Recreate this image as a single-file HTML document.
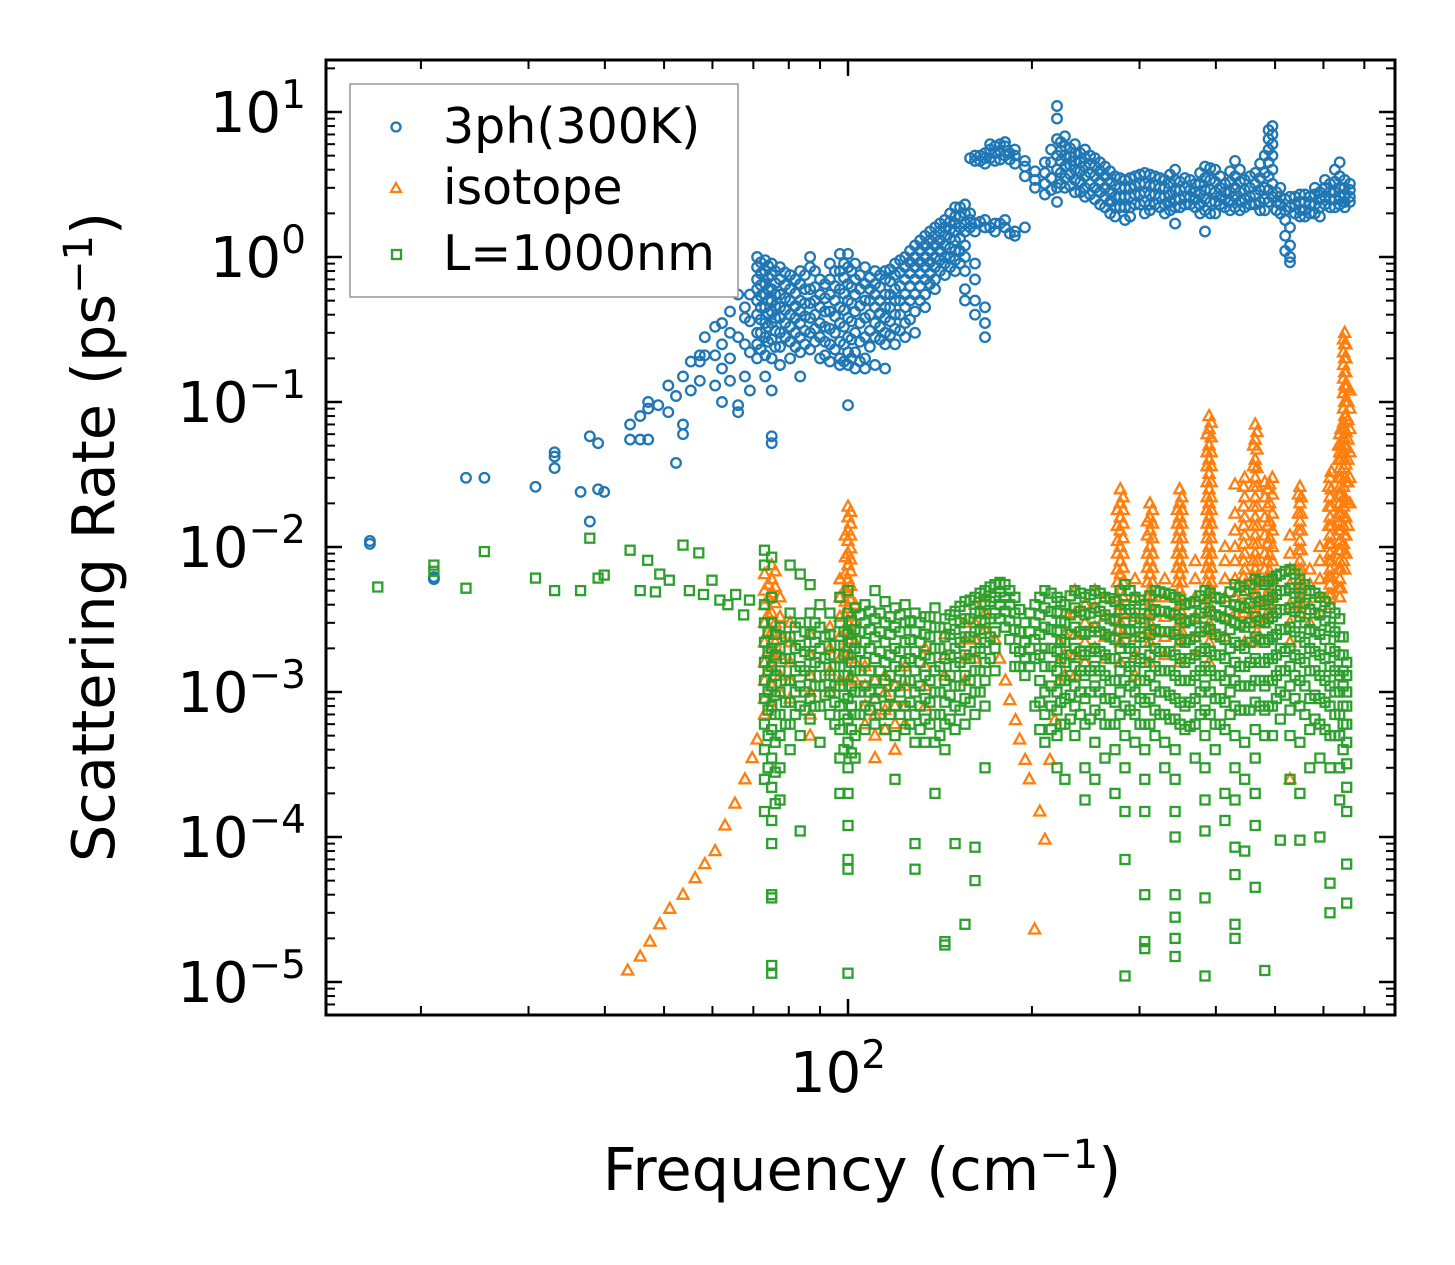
<!DOCTYPE html>
<html><head><meta charset="utf-8"><style>
html,body{margin:0;padding:0;background:#fff;}
svg{display:block;font-family:"DejaVu Sans","Liberation Sans",sans-serif;}
</style></head><body>
<svg id="chart" width="1455" height="1265" viewBox="0 0 1455 1265" xmlns="http://www.w3.org/2000/svg">
<rect width="1455" height="1265" fill="#fff"/>
<g id="marks"></g>
<g id="axes"></g>
<g id="legend">
<rect x="350" y="84" width="388" height="213" fill="#fff" stroke="#999" stroke-width="1.5"/>
<circle cx="396" cy="127" r="4.5" fill="none" stroke="#1f77b4" stroke-width="2.3"/>
<text x="443" y="143" font-size="49">3ph(300K)</text>
<path d="M396,183 L401,192 L391,192 Z" fill="none" stroke="#ff7f0e" stroke-width="2.3"/>
<text x="443" y="204" font-size="49">isotope</text>
<rect x="392" y="250" width="9" height="9" fill="none" stroke="#2ca02c" stroke-width="2.3"/>
<text x="443" y="270" font-size="49">L=1000nm</text>
</g>
<text x="862" y="1190" font-size="59" text-anchor="middle">Frequency (cm<tspan dy="-22" font-size="40">−1</tspan><tspan dy="22">)</tspan></text>
<text transform="translate(114,537) rotate(-90)" font-size="59" text-anchor="middle">Scattering Rate (ps<tspan dy="-22" font-size="40">−1</tspan><tspan dy="22">)</tspan></text>
</svg>
<script>
// ---- data ----
const blueFreqs=[16.5,21,23.7,25.4,30.8,33.1,36.5,37.8,39,39.9,44,45.7,47.1,48.9,50.8,52.3,53.7,55.3,57.2,58.3,60.6,62.2,64.1,66.1,67.8,69.1,71,73.2,75,77.4,80.4,83.5,86.7,90,93.4,97,100,102.7,106.6,110.7,115,119.4,124,128.7,133.7,138.8,144.1,149.7,155.4,161.4,167.6,174,180.7,187.6,194.8,202.3,210,219.8,226.5,235.2,244.3,253.6,263.4,273.5,284,294.9,306,318,330,343,356,370,384,399,414,430,446,464,481,495,510,529,549,570,592,615,638,663];
const blueRates=[[0.011,0.0105],[0.0062,0.006],[0.030],[0.030],[0.026],[0.045,0.042,0.035],[0.024],[0.058,0.015],[0.052,0.025],[0.024],[0.070,0.055],[0.08,0.055],[0.10,0.09,0.055],[0.095],[0.13,0.085],[0.11,0.038],[0.15,0.07,0.06],[0.19,0.12],[0.21,0.19,0.14],[0.28,0.21],[0.33,0.21,0.13],[0.35,0.25,0.17,0.10],[0.42,0.30,0.20,0.14],[0.55,0.28,0.095,0.085],[0.45,0.38,0.25,0.15],[0.55,0.36,0.22,0.12],
[1.0,0.85,0.7,0.6,0.5,0.4,0.3,0.25,0.2],[0.95,0.8,0.65,0.55,0.45,0.35,0.28,0.21,0.15],[0.9,0.75,0.6,0.5,0.42,0.35,0.27,0.2,0.12,0.058,0.052],[0.85,0.7,0.55,0.45,0.38,0.3,0.24,0.18],[0.75,0.6,0.5,0.4,0.33,0.26,0.2],[0.8,0.65,0.5,0.42,0.35,0.28,0.22,0.15],[1.0,0.85,0.6,0.48,0.38,0.3,0.23],[0.7,0.55,0.45,0.35,0.28,0.2],[0.9,0.7,0.55,0.42,0.32,0.25,0.19],[1.05,0.8,0.6,0.45,0.35,0.26,0.2,0.18],[1.05,0.85,0.65,0.5,0.38,0.28,0.22,0.18,0.095],[0.9,0.7,0.55,0.42,0.3,0.22,0.17],[0.85,0.65,0.5,0.38,0.28,0.2,0.17],[0.8,0.65,0.55,0.45,0.35,0.28,0.18],[0.8,0.7,0.55,0.45,0.38,0.3,0.25,0.17],[0.9,0.75,0.6,0.5,0.4,0.32,0.25],[1.0,0.85,0.7,0.55,0.45,0.35,0.28],[1.2,1.0,0.85,0.7,0.55,0.42,0.3],[1.4,1.2,1.0,0.85,0.7,0.55,0.45],[1.6,1.4,1.2,1.0,0.85,0.7,0.6],[1.8,1.6,1.4,1.2,1.0,0.9,0.75],[2.2,1.9,1.7,1.5,1.3,1.1,0.95,0.8],[2.3,2.0,1.7,1.5,1.2,1.0,0.8,0.6,0.5],[5.0,4.6,1.7,1.5,0.9,0.7,0.5,0.4],[5.2,4.8,4.4,1.8,1.6,0.45,0.35,0.28],[5.8,5.2,4.6,1.7,1.5],[6.2,5.8,5.0,1.8,1.6],[5.5,5.0,4.4,1.5,1.4],[4.6,4.2,3.6,1.6],[3.9,3.4,3.0],[4.5,3.8,3.2,2.7],[11,9.0,6.5,5.0,4.0,3.0,2.4],[6.8,5.8,5.0,4.2,3.5,3.0],[6.0,5.2,4.6,4.0,3.4,2.8],[5.5,4.8,4.2,3.6,3.0,2.6],[4.8,4.2,3.6,3.0,2.5],[4.2,3.6,3.0,2.6,2.2],[3.6,3.1,2.6,2.2,1.9],[3.4,3.0,2.6,2.2,1.8],[3.6,3.1,2.7,2.3],[3.8,3.2,2.8,2.4,2.0],[3.6,3.1,2.7,2.3],[3.4,3.0,2.6,2.3,2.0],[4.0,3.4,2.9,2.5,2.2,1.7],[3.5,3.0,2.6,2.3],[3.2,2.8,2.5,2.2],[4.2,3.5,2.9,2.5,2.1,1.5],[4.0,3.3,2.8,2.4,2.0],[3.2,2.8,2.5,2.2],[4.6,3.6,3.0,2.6,2.2],[3.4,2.9,2.5,2.2],[3.8,3.2,2.7,2.3],[5.0,3.8,3.0,2.5,2.1],[8.0,7.0,6.0,5.0,4.0,3.2,2.6],[3.0,2.6,2.3,2.0],[2.6,2.2,1.6,1.2,1.0,0.92],[2.7,2.4,2.1,1.9],[2.6,2.3,2.0],[2.8,2.5,2.2,1.9],[3.2,2.8,2.5,2.2],[4.5,3.6,3.0,2.6,2.3],[3.2,2.9,2.6,2.4]];
const blueFreqs2=[72,74,76,78.9,82,85,88.3,91.7,95.2,98.5,101.3,104.6,108.6,112.8,117.2,121.7,126.3,131.2,136.2,141.4,146.9,152.5,158.4,164.5,170.8,177.3,184,215,223,231,240,249,258.5,268.5,278.7,289.5,300.5,312,324,336.5,349.5,363,377,391.5,406.5,422,438,455,472.5,488,502.5,519.5,539,559.5,581,603.5,626.5,650];
const blueRates2=[[0.92,0.77,0.64,0.54,0.45,0.37,0.3,0.23],[0.87,0.72,0.6,0.5,0.41,0.33,0.26],[0.8,0.66,0.55,0.46,0.38,0.31,0.24],[0.78,0.64,0.52,0.43,0.35,0.28],[0.7,0.56,0.46,0.38,0.3,0.24],[0.75,0.6,0.48,0.39,0.31,0.25],[0.8,0.62,0.5,0.4,0.32,0.26],[0.65,0.52,0.42,0.33,0.26,0.21],[0.8,0.63,0.5,0.39,0.3,0.23],[0.9,0.72,0.56,0.43,0.33,0.25,0.19],[0.8,0.62,0.48,0.36,0.27,0.2],[0.75,0.6,0.46,0.35,0.26,0.19],[0.72,0.6,0.5,0.4,0.31,0.24],[0.75,0.62,0.5,0.41,0.33,0.27],[0.82,0.68,0.55,0.45,0.36,0.29],[0.95,0.78,0.63,0.5,0.4,0.31],[1.1,0.92,0.77,0.63,0.5,0.37],[1.3,1.1,0.92,0.77,0.63,0.5],[1.5,1.3,1.1,0.92,0.77,0.65],[1.7,1.5,1.3,1.1,0.95,0.8],[2.0,1.75,1.55,1.35,1.15,1.0,0.85],[2.2,1.9,1.6,1.35,1.1,0.9],[4.8,2.0,1.8,1.6],[5.0,4.6,1.75],[6.0,5.5,4.8,1.6],[6.0,5.4,4.7,1.7],[5.2,4.7,1.45],[5.5,4.5,3.5,2.9],[6.2,5.4,4.6,3.8,3.2],[5.6,4.9,4.3,3.7,3.1],[5.2,4.5,3.9,3.3,2.8],[5.0,4.4,3.8,3.2,2.7],[4.5,3.9,3.3,2.8,2.3],[3.9,3.3,2.8,2.4,2.0],[3.5,3.0,2.6,2.2],[3.5,3.0,2.6,2.2,1.9],[3.7,3.2,2.7,2.3],[3.7,3.1,2.7,2.3,2.1],[3.5,3.0,2.6,2.2],[3.7,3.2,2.7,2.4,2.1],[3.3,2.9,2.5,2.2],[3.4,2.9,2.6,2.3],[3.8,3.2,2.7,2.3,2.0],[4.1,3.4,2.9,2.4,2.0],[3.6,3.0,2.6,2.3],[3.9,3.3,2.8,2.4,2.1],[4.0,3.3,2.8,2.4,2.1],[3.6,3.0,2.6,2.3],[4.4,3.5,2.9,2.4,2.1],[7.5,6.5,5.5,4.5,3.6,2.9,2.4],[2.8,2.4,2.1],[2.5,2.1,1.8,1.4,1.1],[2.6,2.3,2.0],[2.7,2.4,2.1,1.9],[3.0,2.7,2.3,2.0],[3.4,3.0,2.6,2.3],[4.0,3.3,2.8,2.5,2.2],[3.4,3.0,2.7,2.4,2.2]];

const isoFreqs=[43.6,45.7,47.4,49.2,51.1,53.7,56.2,58.3,60.6,62.9,65.3,67.8,69.7,71,73,75,77.4,80.4,86.7,93.4,97,100,102.7,106.6,110.7,115,119.4,124,133.7,144.1,155.4,161.4,167.6,174,177,181,184,188,191,195,198,202,206,210,214,218,222,226.5,235.2,244.3,253.6,263.4,279,294.9,312,330,349,370,390,414,430,446,464,481,495,529,549,570,592,615,638,650,663];
const isoRates=[[1.2e-5],[1.5e-5],[1.9e-5],[2.5e-5],[3.2e-5],[4e-5],[5.2e-5],[6.5e-5],[8e-5],[1.2e-4],[1.7e-4],[2.5e-4],[3.5e-4],[4.7e-4],[0.0065,0.005,0.004,0.003,0.0022,0.0016,0.0012,9e-4,7e-4],[0.0075,0.006,0.0048,0.0035,0.0026,0.002,0.0015,0.0011,8e-4],[0.0045,0.0033,0.0025,0.0018,0.0013,0.001],[0.003,0.0022,0.0016,0.0012,9e-4],[0.0025,0.0018,0.0013,0.001,7e-4,5e-4],[0.0028,0.002,0.0014,0.001],[0.006,0.0045,0.0033,0.0024,0.0017,0.0012],[0.019,0.016,0.013,0.011,0.009,0.0075,0.006,0.0048,0.0038,0.003,0.0023,0.0017,0.0012],[0.004,0.003,0.0022,0.0016,0.0012],[0.0015,0.0011,8e-4,6e-4],[0.0012,9e-4,7e-4,5e-4,3.5e-4],[0.0013,0.001,7.5e-4,5.5e-4],[0.0011,8e-4,6e-4,4e-4],[0.0015,0.0011,8e-4,6e-4],[0.002,0.0015,0.0011,8e-4],[0.0025,0.0018,0.0013],[0.003,0.0023,0.0017,0.0012],[0.004,0.003,0.0023,0.0017],[0.0045,0.0035,0.0027],[2.3e-3],[1.7e-3],[1.2e-3],[8.8e-4],[6.4e-4],[4.7e-4],[3.4e-4],[2.5e-4],[2.3e-5],[1.5e-4],[9.6e-5],[3.4e-4],[6.4e-4],[0.0012,0.0016,0.0022],[0.0035,0.0025,0.0018,0.0013],[0.005,0.0035,0.0025,0.0018,0.0013],[0.004,0.003,0.0022,0.0016],[0.005,0.0038,0.0028,0.002],[0.0045,0.0033,0.0024,0.0017],[0.025,0.02,0.016,0.013,0.01,0.008,0.0065,0.005,0.004,0.003,0.0022,0.0016],[0.006,0.0045,0.0033,0.0024,0.0018,0.0013],[0.02,0.016,0.013,0.01,0.008,0.0065,0.005,0.004,0.003,0.0022,0.0016],[0.006,0.0045,0.0033,0.0024,0.0018],[0.025,0.02,0.016,0.013,0.01,0.008,0.0065,0.005,0.004,0.003,0.0022,0.0016],[0.008,0.006,0.0045,0.0033,0.0024,0.0018],[0.08,0.065,0.05,0.04,0.032,0.025,0.02,0.016,0.013,0.01,0.008,0.0065,0.005,0.004,0.003,0.0022,0.0016],[0.01,0.008,0.006,0.0045,0.0033,0.0024],[0.027,0.017,0.013,0.01,0.008,0.006,0.0045,0.0035],[0.03,0.022,0.016,0.012,0.009,0.007,0.0055,0.004,0.003,0.0022],[0.07,0.055,0.04,0.03,0.022,0.016,0.012,0.009,0.007,0.0055,0.004,0.003,0.0022],[0.028,0.022,0.016,0.012,0.009,0.007,0.0055,0.004,0.003],[0.03,0.023,0.017,0.013,0.01,0.008,0.006,0.0045,0.0035],[0.012,0.009,0.007,0.0055,0.004,0.003,0.0022,2.5e-4],[0.026,0.02,0.015,0.011,0.008,0.006,0.0045,0.0035],[0.007,0.0055,0.004,0.003],[0.01,0.008,0.006,0.0045,0.0035],[0.03,0.022,0.016,0.012,0.009,0.007,0.0055,0.004],[0.06,0.045,0.035,0.026,0.02,0.015,0.011,0.008,0.006,0.0045],[0.3,0.25,0.2,0.16,0.13,0.1,0.08,0.065,0.05,0.04,0.03,0.022,0.016,0.012,0.009,0.007],[0.12,0.09,0.065,0.045,0.03,0.02]];
const isoFreqs2=[74,76,99,101,276,282,309,315,346,352,387,393,444,461,467,486,490,546,552,612,618,635,641,647,653,658];
const isoRates2=[[0.0055,0.0044,0.0034,0.0026,0.0019,0.0014],[0.0068,0.0053,0.0041,0.003,0.0022,0.0017],[0.012,0.0085,0.0065,0.0052,0.0042,0.0033,0.0026,0.002],[0.0175,0.0145,0.012,0.0098,0.0082,0.0068,0.0054,0.0043,0.0034,0.0026],[0.018,0.014,0.011,0.009,0.007,0.0057,0.0045,0.0035,0.0027],[0.022,0.018,0.0145,0.0115,0.009,0.0072,0.0057,0.0045,0.0035,0.0026],[0.015,0.012,0.009,0.0072,0.0057,0.0045,0.0035,0.0027],[0.018,0.0145,0.0115,0.009,0.0072,0.0057,0.0045,0.0035,0.0026],[0.018,0.0145,0.0115,0.009,0.0072,0.0057,0.0045,0.0035,0.0027],[0.022,0.018,0.0145,0.0115,0.009,0.0072,0.0057,0.0045,0.0035,0.0026],[0.06,0.045,0.036,0.028,0.022,0.018,0.0145,0.0115,0.009,0.0072,0.0057,0.0045,0.0035,0.0027],[0.072,0.057,0.045,0.036,0.028,0.022,0.018,0.0145,0.0115,0.009,0.0072,0.0057,0.0045,0.0035,0.0026],[0.026,0.019,0.014,0.0105,0.008,0.0062,0.0047,0.0035],[0.05,0.036,0.026,0.019,0.014,0.0105,0.008,0.0062,0.0047,0.0035],[0.062,0.047,0.035,0.026,0.019,0.014,0.0105,0.008,0.0062,0.0047,0.0035,0.0026],[0.025,0.019,0.014,0.0105,0.008,0.0062,0.0047,0.0035],[0.027,0.02,0.015,0.0115,0.0088,0.0068,0.0052,0.004],[0.023,0.017,0.013,0.0095,0.007,0.0052,0.004],[0.022,0.017,0.013,0.0095,0.007,0.0052,0.004],[0.026,0.019,0.014,0.0105,0.008,0.0062,0.0047],[0.033,0.025,0.019,0.014,0.0105,0.008,0.0062,0.0047],[0.05,0.04,0.03,0.023,0.017,0.013,0.0095,0.007,0.0052],[0.065,0.05,0.04,0.03,0.023,0.017,0.013,0.0095,0.007,0.0052],[0.27,0.22,0.18,0.145,0.115,0.09,0.072,0.057,0.045,0.035,0.026,0.019,0.014,0.0105,0.008],[0.25,0.2,0.16,0.125,0.1,0.08,0.062,0.048,0.037,0.028,0.021,0.016,0.012,0.009],[0.1,0.075,0.055,0.04,0.028,0.02,0.014]];

const bndFreqs=[17,21,23.7,25.4,30.8,33.1,36.5,37.8,39,39.9,44,45.7,47,48.4,49.2,51,53.7,55,57,58,59.9,61.7,63.6,65.5,67.5,69,73,75,77.4,80.4,83.5,86.7,90,93.4,97,100,102.7,106.6,110.7,115,119.4,124,128.7,133.7,138.8,144.1,149.7,155.4,161.4,167.6,174,180.7,187.6,194.8,202.3,210,219.8,226.5,235.2,244.3,253.6,263.4,273.5,284,294.9,306,318,330,343,356,370,384,399,414,430,446,464,481,495,510,529,549,570,592,615,638,655];
const bndRates=[[0.0053],[0.0075,0.0068],[0.0052],[0.0093],[0.0061],[0.005],[0.005],[0.0115],[0.0061],[0.0064],[0.0095],[0.005],[0.0081],[0.0049],[0.0065],[0.0059],[0.0103],[0.005],[0.0091],[0.0047],[0.0059],[0.0043],[0.004],[0.0047],[0.0034],[0.0043],
[0.0095,0.0075,0.004,0.003,0.0022,0.0016,0.0012,9e-4,6e-4,4e-4,2.5e-4,1.5e-4],[0.0085,0.0045,0.003,0.002,0.0015,0.0011,8e-4,5.5e-4,3.5e-4,2.2e-4,1.3e-4,9e-5,4e-5,3.8e-5,1.3e-5,1.15e-5],[0.0028,0.002,0.0014,0.001,7e-4,5e-4,3e-4,1.8e-4],[0.0075,0.0035,0.0024,0.0017,0.0012,8.5e-4,6e-4,4e-4],[0.0065,0.003,0.0021,0.0015,0.0011,8e-4,5e-4,1.1e-4],[0.0055,0.0035,0.0025,0.0018,0.0013,9e-4,6.5e-4],[0.004,0.0028,0.002,0.0015,0.0011,8e-4,4.5e-4],[0.0035,0.0025,0.0018,0.0013,0.001,7e-4],[0.0045,0.003,0.0021,0.0015,0.0011,8e-4,5.5e-4,3.5e-4,2e-4],[0.005,0.0035,0.0025,0.0018,0.0013,9e-4,6.5e-4,4.5e-4,3e-4,2e-4,1.2e-4,7e-5,6e-5,1.15e-5],[0.0038,0.0027,0.002,0.0014,0.001,7e-4,5e-4,3.5e-4],[0.004,0.003,0.0022,0.0016,0.0011,8e-4,5.5e-4],[0.005,0.0032,0.0024,0.0017,0.0012,9e-4,6e-4],[0.0042,0.003,0.0022,0.0016,0.0012,8e-4,5.5e-4],[0.0038,0.0028,0.002,0.0015,0.0011,8e-4,5e-4,2.5e-4],[0.004,0.003,0.0022,0.0016,0.0012,8e-4,5.5e-4],[0.0035,0.0026,0.0019,0.0014,0.001,7e-4,4.5e-4,9e-5,6e-5],[0.0033,0.0025,0.0018,0.0013,9e-4,6.5e-4,4.5e-4],[0.0038,0.0028,0.002,0.0014,0.001,7e-4,4.5e-4,2e-4],[0.0032,0.0024,0.0017,0.0012,8.5e-4,6e-4,4e-4,1.9e-5,1.8e-5],[0.0036,0.0027,0.002,0.0015,0.0011,8e-4,5.5e-4,9e-5],[0.0042,0.0032,0.0024,0.0018,0.0013,9e-4,6e-4,2.5e-5],[0.0045,0.0035,0.0026,0.0019,0.0014,0.001,7e-4,5e-5,8.5e-5],[0.005,0.004,0.003,0.0022,0.0016,0.0012,8e-4,3e-4],[0.0055,0.0045,0.0035,0.0026,0.002,0.0014],[0.0055,0.0045,0.0036,0.0028],[0.0045,0.0035,0.0027,0.002,0.0015],[0.003,0.0022,0.0017,0.0013],[0.004,0.003,0.0023,0.0017,8e-4],[0.005,0.0038,0.0028,0.002,0.0015,0.001,7e-4,4.5e-4],[0.0045,0.0035,0.0026,0.0019,0.0014,0.001,7.5e-4,5e-4,3e-4],[0.004,0.003,0.0022,0.0016,0.0012,9e-4,6e-4,2.5e-4],[0.005,0.0038,0.0028,0.002,0.0015,0.0011,8e-4,5e-4],[0.0045,0.0034,0.0025,0.0018,0.0013,9e-4,6e-4,3e-4,1.8e-4],[0.005,0.0038,0.0028,0.002,0.0015,0.0011,7.5e-4,4.5e-4,2.5e-4],[0.0045,0.0034,0.0025,0.0018,0.0013,9e-4,6e-4,3.5e-4],[0.0042,0.0031,0.0023,0.0017,0.0012,8.5e-4,6e-4,4e-4,2e-4],[0.0055,0.004,0.003,0.0022,0.0016,0.0012,8e-4,5e-4,3e-4,1.5e-4,7e-5,1.1e-5],[0.0045,0.0035,0.0026,0.0019,0.0014,0.001,7e-4,4.5e-4],[0.004,0.003,0.0022,0.0016,0.0012,8.5e-4,6e-4,4e-4,2.5e-4,1.5e-4,4e-5,1.9e-5,1.7e-5],[0.005,0.0037,0.0027,0.002,0.0015,0.0011,7.5e-4,5e-4],[0.0048,0.0036,0.0026,0.0019,0.0014,0.001,7e-4,4.5e-4,3e-4],[0.0045,0.0034,0.0025,0.0018,0.0013,9e-4,6.5e-4,4e-4,2.5e-4,1.5e-4,1e-4,4e-5,2.8e-5,2e-5,1.5e-5],[0.004,0.003,0.0022,0.0016,0.0012,8e-4,5.5e-4],[0.0042,0.0032,0.0024,0.0018,0.0013,9e-4,6e-4,3.5e-4],[0.005,0.0038,0.0028,0.002,0.0015,0.0011,7.5e-4,5e-4,3e-4,1.8e-4,1.1e-4,3.8e-5,1.1e-5],[0.0045,0.0034,0.0025,0.0018,0.0013,9e-4,6e-4,4e-4],[0.0042,0.0032,0.0023,0.0017,0.0012,8.5e-4,5.5e-4,2e-4,1.3e-4],[0.0055,0.004,0.003,0.0022,0.0016,0.0012,8e-4,5e-4,3e-4,1.8e-4,8.5e-5,5.5e-5,2.5e-5,2e-5],[0.005,0.0038,0.0028,0.002,0.0015,0.0011,7.5e-4,4.5e-4,2.5e-4,8e-5],[0.006,0.0045,0.0033,0.0024,0.0017,0.0012,8.5e-4,5.5e-4,3.5e-4,2e-4,1.2e-4,4.5e-5],[0.0055,0.004,0.003,0.0022,0.0016,0.0011,7.5e-4,5e-4,1.2e-5],[0.006,0.0045,0.0033,0.0024,0.0017,0.0012,8e-4,5e-4],[0.0065,0.005,0.0037,0.0027,0.002,0.0014,0.001,6.5e-4,9.5e-5],[0.007,0.0052,0.0038,0.0028,0.002,0.0015,0.0011,7.5e-4,5e-4,2.5e-4],[0.006,0.0045,0.0033,0.0024,0.0017,0.0012,8e-4,4.5e-4,2e-4,9.5e-5],[0.005,0.0037,0.0027,0.002,0.0014,9e-4,5.5e-4,3e-4],[0.0045,0.0034,0.0025,0.0018,0.0013,9e-4,6e-4,3.5e-4,1e-4],[0.0038,0.0028,0.002,0.0015,0.0011,8e-4,5e-4,3e-4,4.8e-5,3e-5],[0.0032,0.0024,0.0018,0.0013,0.001,7e-4,5e-4,3e-4,1.8e-4],[0.0016,0.0013,0.001,8e-4,6e-4,4.5e-4,3.2e-4,2.2e-4,1.5e-4,6.5e-5,3.5e-5]];
const bndFreqs2=[74,76,79,82,85,88.3,91.7,95.2,98.5,101.3,104.6,108.6,112.8,117.2,121.7,126.3,131.2,136.2,141.4,146.9,152.5,158.4,164.5,170.8,177.3,184,191,198.5,206,215,223,231,240,249,258.5,268.5,278.7,289.5,300.5,312,324,336.5,349.5,363,377,391.5,406.5,422,438,455,472.5,488,502.5,519.5,539,559.5,581,603.5,626.5,646];
const bndRates2=[[0.0026,0.0019,0.0014,0.001,7.5e-4,5e-4,3e-4],[0.0025,0.0018,0.0013,9.5e-4,7e-4,4.5e-4,2.8e-4,1.7e-4],[0.0024,0.0017,0.0012,8.5e-4,6e-4],[0.0028,0.002,0.0014,0.001,7e-4],[0.0026,0.0019,0.0014,0.001,7.5e-4],[0.003,0.0022,0.0016,0.0011,8e-4],[0.0024,0.0017,0.0013,9.5e-4],[0.0021,0.0015,0.0011,8.5e-4,6e-4],[0.0026,0.0018,0.0013,9.5e-4,7e-4,4e-4],[0.0031,0.0022,0.0016,0.0011,8e-4,5.5e-4,3.8e-4],[0.0034,0.0026,0.0019,0.0014,0.001,7e-4],[0.0036,0.0027,0.002,0.0014,0.001,7.5e-4],[0.0035,0.0026,0.0019,0.0014,0.001,7e-4],[0.0033,0.0025,0.0018,0.0013,9.5e-4,7e-4],[0.0034,0.0026,0.0019,0.0014,0.001,7e-4],[0.0031,0.0023,0.0017,0.0012,8.5e-4,6e-4],[0.003,0.0022,0.0016,0.0011,8e-4,5.5e-4],[0.0033,0.0024,0.0017,0.0012,8.5e-4,6e-4],[0.0028,0.002,0.0015,0.001,7e-4,5e-4],[0.0034,0.0025,0.0018,0.0013,9.5e-4,6.5e-4],[0.0039,0.003,0.0022,0.0016,0.0011,7.5e-4],[0.0043,0.0032,0.0024,0.0017,0.0012,8.5e-4],[0.0048,0.0036,0.0027,0.002,0.0014,0.001],[0.0053,0.0042,0.0032,0.0024,0.0017],[0.0057,0.0049,0.004,0.0032],[0.005,0.004,0.0031,0.0023],[0.0037,0.0026,0.0019,0.0015],[0.0035,0.0026,0.002,0.0015],[0.0045,0.0034,0.0025,0.0018,0.0012,8.5e-4,5.5e-4],[0.0048,0.0036,0.0027,0.002,0.0015,0.0011,8e-4,5.5e-4],[0.0042,0.0031,0.0023,0.0017,0.0012,8.5e-4,6e-4],[0.0046,0.0034,0.0025,0.0018,0.0013,9.5e-4,6.5e-4],[0.0048,0.0036,0.0026,0.0019,0.0014,0.001,7e-4],[0.0047,0.0035,0.0026,0.0019,0.0014,0.001,6.5e-4],[0.0048,0.0036,0.0026,0.0019,0.0014,0.001,7e-4],[0.0044,0.0032,0.0024,0.0017,0.0012,9e-4,6e-4],[0.005,0.0037,0.0027,0.002,0.0014,0.001,7e-4],[0.005,0.0037,0.0027,0.002,0.0015,0.0011,7.5e-4],[0.0043,0.0032,0.0024,0.0017,0.0012,9e-4,6e-4],[0.0046,0.0034,0.0025,0.0018,0.0013,9e-4,6e-4],[0.0049,0.0036,0.0026,0.0019,0.0014,0.001,7e-4],[0.0047,0.0035,0.0026,0.0019,0.0014,9.5e-4,6.5e-4],[0.0043,0.0032,0.0023,0.0017,0.0012,8.5e-4,6e-4],[0.0041,0.0031,0.0023,0.0017,0.0012,8.5e-4,5.8e-4],[0.0046,0.0035,0.0026,0.0019,0.0014,0.001,7e-4],[0.0048,0.0036,0.0027,0.0019,0.0014,0.001,7e-4],[0.0044,0.0033,0.0024,0.0018,0.0013,9e-4,6e-4],[0.0049,0.0036,0.0027,0.002,0.0014,0.001,7e-4],[0.0053,0.0039,0.0029,0.0021,0.0015,0.0011,7.5e-4],[0.0055,0.0041,0.003,0.0022,0.0016,0.0011,7.5e-4],[0.0058,0.0042,0.0031,0.0023,0.0016,0.0012,8e-4],[0.0058,0.0043,0.0032,0.0023,0.0017,0.0012,8e-4],[0.0063,0.0047,0.0035,0.0025,0.0018,0.0013,9e-4],[0.0068,0.005,0.0037,0.0027,0.0019,0.0014,9.5e-4],[0.0065,0.0048,0.0036,0.0026,0.0018,0.0013,9e-4],[0.0055,0.0041,0.003,0.0022,0.0016,0.0011,7e-4],[0.0048,0.0035,0.0026,0.0019,0.0014,9.5e-4,6.5e-4],[0.0042,0.0031,0.0023,0.0017,0.0012,8.5e-4,5.5e-4],[0.0035,0.0026,0.0019,0.0014,0.001,7e-4,5e-4],[0.0024,0.0018,0.0014,0.0011,8e-4,6e-4,4e-4]];

const yTickExps=[1,0,-1,-2,-3,-4,-5];
const xTickLabels=["10","2"];

// ---- axes geometry ----
const L=326,R=1395,T=60,B=1015;
function xs(f){return 848+611*Math.log10(f/100);}
function ys(v){return 257-145*Math.log10(v);}
const NS="http://www.w3.org/2000/svg";
function mk(tag,attrs,parent){const e=document.createElementNS(NS,tag);for(const k in attrs)e.setAttribute(k,attrs[k]);parent.appendChild(e);return e;}
const marks=document.getElementById('marks');
const axes=document.getElementById('axes');
mk('clipPath',{id:'clip'},marks);
mk('rect',{x:L,y:T,width:R-L,height:B-T},document.getElementById('clip'));

function series(freqs,rates,kind,color,name){
  const g=mk('g',{'clip-path':'url(#clip)',fill:'none',stroke:color,'stroke-width':2.3},marks);
  
  
  freqs.forEach((f,i)=>{rates[i].forEach(v=>{
    const x=xs(f),y=ys(v);let el;
    if(kind==='c') el=mk('circle',{cx:x.toFixed(1),cy:y.toFixed(1),r:4.8},g);
    else if(kind==='t') el=mk('path',{d:`M${x.toFixed(1)},${(y-6).toFixed(1)} l5.5,10 l-11,0 Z`},g);
    else el=mk('rect',{x:(x-4.5).toFixed(1),y:(y-4.5).toFixed(1),width:9,height:9},g);
    
    
  });});
}
series(blueFreqs,blueRates,'c','#1f77b4','series-3ph');
series(blueFreqs2,blueRates2,'c','#1f77b4','series-3ph-extra');
series(isoFreqs,isoRates,'t','#ff7f0e','series-isotope');
series(isoFreqs2,isoRates2,'t','#ff7f0e','series-isotope-extra');
series(bndFreqs,bndRates,'s','#2ca02c','series-boundary');
series(bndFreqs2,bndRates2,'s','#2ca02c','series-boundary-extra');

// frame
const frame=mk('rect',{x:L,y:T,width:R-L,height:B-T,fill:'none',stroke:'#000','stroke-width':3},axes);


// y ticks
yTickExps.forEach(e=>{
  const y=ys(Math.pow(10,e));
  mk('line',{x1:L,x2:L+16,y1:y,y2:y,stroke:'#000','stroke-width':2.5},axes);
  mk('line',{x1:R,x2:R-16,y1:y,y2:y,stroke:'#000','stroke-width':2.5},axes);
  const t=mk('text',{x:306,y:y+20,'font-size':56,'text-anchor':'end'},axes);
  
  
  t.innerHTML='10<tspan dy="-24" font-size="39">'+(e<0?'−'+(-e):e)+'</tspan>';
});
for(let e=-6;e<=1;e++){for(let m=2;m<=9;m++){const y=ys(m*Math.pow(10,e));if(y<T+1||y>B-1)continue;
  mk('line',{x1:L,x2:L+9,y1:y,y2:y,stroke:'#000','stroke-width':2},axes);
  mk('line',{x1:R,x2:R-9,y1:y,y2:y,stroke:'#000','stroke-width':2},axes);}}
// x ticks
[10,100,1000].forEach(d=>{for(let m=1;m<=9;m++){const f=m*d;const x=xs(f);if(x<L+1||x>R-1)continue;
  const len=(m===1)?16:9, w=(m===1)?2.5:2;
  mk('line',{x1:x,x2:x,y1:B,y2:B-len,stroke:'#000','stroke-width':w},axes);
  mk('line',{x1:x,x2:x,y1:T,y2:T+len,stroke:'#000','stroke-width':w},axes);}});
const xl=mk('text',{x:xs(100)-10,y:1092,'font-size':56,'text-anchor':'middle'},axes);


xl.innerHTML=xTickLabels[0]+'<tspan dy="-24" font-size="39">'+xTickLabels[1]+'</tspan>';
</script>
</body></html>
